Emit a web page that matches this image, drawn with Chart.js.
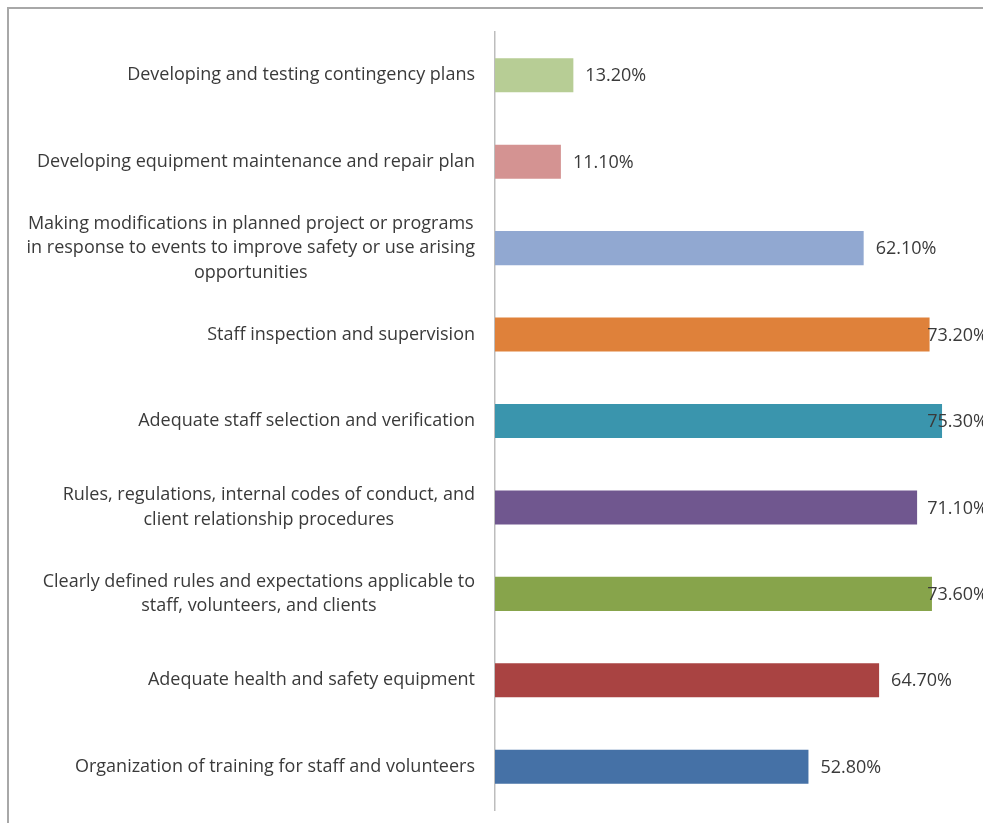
<!DOCTYPE html>
<html>
<head>
<meta charset="utf-8">
<style>
  html, body { margin: 0; padding: 0; background: #ffffff; }
  #wrap { position: relative; width: 983px; height: 823px; }
</style>
<script src="https://cdn.jsdelivr.net/npm/chart.js@4/dist/chart.umd.min.js"></script>
</head>
<body>
<div id="wrap"><canvas id="chart" width="983" height="823"></canvas></div>
<script>
const categories = [
  ["Developing and testing contingency plans"],
  ["Developing equipment maintenance and repair plan"],
  ["Making modifications in planned project or programs", "in response to events to improve safety or use arising", "opportunities"],
  ["Staff inspection and supervision"],
  ["Adequate staff selection and verification"],
  ["Rules, regulations, internal codes of conduct, and", "client relationship procedures"],
  ["Clearly defined rules and expectations applicable to", "staff, volunteers, and clients"],
  ["Adequate health and safety equipment"],
  ["Organization of training for staff and volunteers"]
];
const values = [13.2, 11.1, 62.1, 73.2, 75.3, 71.1, 73.6, 64.7, 52.8];
const barColors = ["#B7CD95", "#D49392", "#91A8D1", "#DF813A", "#3A95AD", "#70578F", "#87A44B", "#A94342", "#4571A6"];

const FONT = "'Open Sans', Lato, sans-serif";
const TEXT_COLOR = "#3a3a3a";

const framePlugin = {
  id: 'frame',
  beforeDraw(chart) {
    const ctx = chart.ctx;
    ctx.save();
    ctx.strokeStyle = '#a8a8a8';
    ctx.lineWidth = 2;
    ctx.beginPath();
    ctx.moveTo(983, 8);
    ctx.lineTo(8, 8);
    ctx.lineTo(8, 823);
    ctx.stroke();
    ctx.restore();
  }
};

const catLabelPlugin = {
  id: 'catLabels',
  afterDraw(chart) {
    const ctx = chart.ctx;
    const yScale = chart.scales.y;
    const right = chart.chartArea.left - 20;
    const lineH = 24.5;
    ctx.save();
    ctx.font = '18px ' + FONT;
    ctx.fillStyle = TEXT_COLOR;
    ctx.textBaseline = 'middle';
    ctx.textAlign = 'center';
    categories.forEach((lines, i) => {
      const cy = yScale.getPixelForValue(i);
      const w = Math.max(...lines.map(l => ctx.measureText(l).width));
      const cx = right - w / 2;
      const startY = cy - (lines.length - 1) * lineH / 2;
      lines.forEach((l, j) => ctx.fillText(l, cx, startY + j * lineH));
    });
    ctx.restore();
  }
};

const valueLabelPlugin = {
  id: 'valueLabels',
  afterDatasetsDraw(chart) {
    const ctx = chart.ctx;
    const meta = chart.getDatasetMeta(0);
    ctx.save();
    ctx.font = '18px ' + FONT;
    ctx.fillStyle = TEXT_COLOR;
    ctx.textBaseline = 'middle';
    ctx.textAlign = 'left';
    const limit = 988;
    meta.data.forEach((bar, i) => {
      const txt = values[i].toFixed(2) + '%';
      const w = ctx.measureText(txt).width;
      let x = bar.x + 12;
      if (x + w > limit) x = limit - w;
      ctx.fillText(txt, x, bar.y + 1);
    });
    ctx.restore();
  }
};

new Chart(document.getElementById('chart'), {
  type: 'bar',
  data: {
    labels: categories.map(c => c.join(' ')),
    datasets: [{
      data: values,
      backgroundColor: barColors,
      borderWidth: 0,
      categoryPercentage: 1.0,
      barPercentage: 0.394
    }]
  },
  options: {
    indexAxis: 'y',
    responsive: false,
    animation: false,
    layout: { padding: { left: 0, right: 0, top: 32, bottom: 13 } },
    plugins: {
      legend: { display: false },
      tooltip: { enabled: false },
      title: { display: false }
    },
    scales: {
      x: {
        display: false,
        min: 0,
        max: 82.2
      },
      y: {
        position: 'left',
        grid: { display: false, drawTicks: false },
        border: { display: true, color: '#bdbdbd', width: 1.5 },
        ticks: { display: false },
        afterFit(scale) { scale.width = 495; }
      }
    }
  },
  plugins: [framePlugin, catLabelPlugin, valueLabelPlugin]
});
</script>
</body>
</html>
